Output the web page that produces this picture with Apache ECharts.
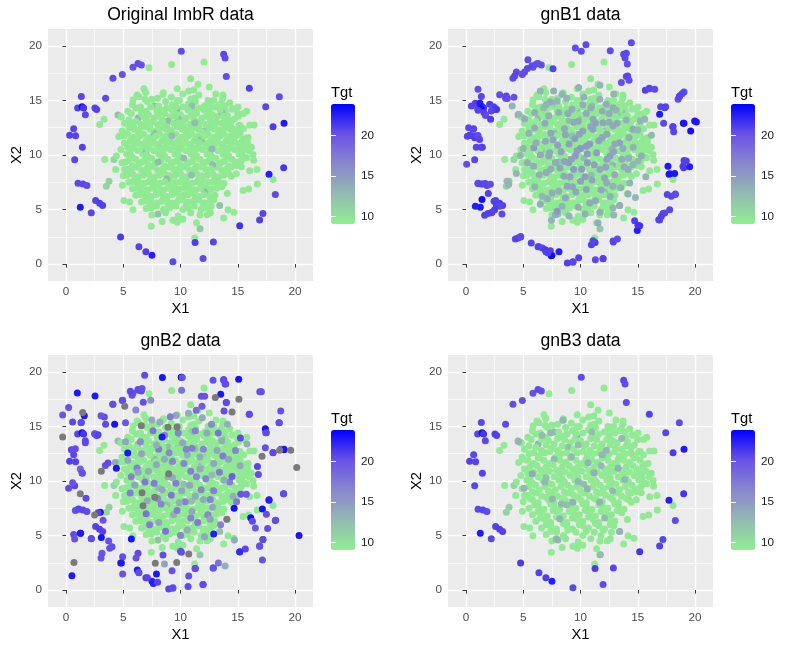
<!DOCTYPE html>
<html>
<head>
<meta charset="utf-8">
<title>Tgt scatter panels</title>
<script src="https://cdn.jsdelivr.net/npm/echarts@6.0.0/dist/echarts.min.js"></script>
<style>
  html, body { margin: 0; padding: 0; background: #fff; }
  #chart { width: 800px; height: 650px; }
</style>
</head>
<body>
<div id="chart"></div>
<script>
// ---- data: [X1, X2, Tgt] ----
const titles = ['Original ImbR data', 'gnB1 data', 'gnB2 data', 'gnB3 data'];
const axisBreaks = [0, 5, 10, 15, 20];
const minorBreaks = [2.5, 7.5, 12.5, 17.5];
const tgtBreaks = [10, 15, 20];
const tgtRange = [9.1, 23.9];

// original data, the green cloud
const origCloud = [
  [7.25,18.0,9.2],[9.23,18.3,9.3],[12.05,18.53,9.2],[10.89,17.0,9.5],[11.53,16.48,9.3],[11.15,15.96,9.5],[10.71,15.87,9.4],[12.52,16.24,9.2],
  [9.72,16.08,9.4],[8.47,15.56,9.6],[6.81,16.08,9.4],[6.96,15.72,9.3],[5.85,15.04,9.3],[6.35,15.35,9.5],[13.71,15.5,9.4],[13.57,14.8,9.5],
  [14.59,14.25,9.3],[15.03,14.4,9.2],[15.78,14.0,9.4],[16.04,12.75,9.3],[16.42,12.75,9.6],[14.59,12.35,9.4],[4.54,13.66,12.6],[4.83,13.48,9.5],
  [3.32,13.27,9.3],[2.94,12.8,9.4],[3.38,9.59,9.3],[4.19,9.59,10.9],[4.34,8.67,9.3],[5.12,8.67,9.5],[3.52,7.14,10.8],[3.76,7.6,11.2],
  [4.92,7.23,9.3],[5.06,5.82,9.4],[5.56,5.7,9.4],[5.85,4.99,9.2],[7.45,3.46,9.3],[8.03,4.6,12.4],[9.34,4.01,9.4],[9.72,3.83,9.5],
  [11.24,2.39,9.3],[11.7,3.25,11.9],[12.34,4.53,9.4],[13.42,5.36,12.3],[13.77,4.23,9.3],[14.09,6.46,9.5],[14.15,4.99,9.4],[14.67,4.75,9.3],
  [15.46,6.74,9.3],[15.95,6.89,9.4],[16.71,7.35,9.3],[18.08,7.75,9.6],[16.04,8.55,9.4],[16.68,8.67,9.3],[16.39,9.53,9.4],[16.33,10.05,9.4],
  [16.19,10.72,9.5],[15.31,10.5,11.0],[15.78,9.74,9.3],[14.88,9.04,9.4],[15.31,8.92,9.4],[14.44,8.06,9.5],[14.88,8.27,9.3],
  [6.2,15.5,9.4],[7.5,15.1,9.5],[8.5,15.7,9.3],[9.2,15.3,9.4],[10.2,15.6,9.3],[10.9,15.1,9.6],[11.6,15.5,9.4],[12.4,15.0,9.4],[13.1,15.6,9.3],[13.7,15.2,9.5],
  [5.8,14.6,9.4],[7.1,14.9,9.3],[7.7,14.5,12.8],[8.7,14.9,9.5],[9.3,14.6,9.4],[9.9,15.0,9.5],[10.7,14.7,9.3],[11.3,14.9,9.4],[12.1,14.5,9.4],[12.6,14.9,9.6],[13.4,14.6,9.3],[14.3,14.8,9.4],
  [5.4,14.0,9.4],[6.1,14.3,9.5],[7.0,14.0,9.3],[7.4,14.4,9.4],[8.3,14.1,9.3],[8.8,14.3,9.5],[9.7,14.1,12.9],[10.2,14.4,9.4],[11.1,14.0,9.4],[11.6,14.3,9.3],[12.5,14.1,9.5],[13.0,14.4,9.4],[13.9,14.0,9.4],[14.5,14.2,9.3],
  [4.8,13.5,9.4],[5.7,13.8,9.4],[6.3,13.4,13.1],[7.2,13.7,9.3],[7.7,13.4,9.5],[8.6,13.8,9.4],[9.1,13.5,9.4],[10.0,13.7,9.3],[10.5,13.4,9.5],[11.4,13.8,9.4],[11.9,13.4,9.4],[12.8,13.7,9.3],[13.2,13.5,9.5],[14.1,13.6,9.4],[14.7,13.3,9.4],[15.5,13.8,9.3],
  [5.1,12.9,9.4],[6.1,13.1,9.3],[6.6,12.8,9.5],[7.5,13.0,9.4],[8.0,12.8,9.4],[8.9,13.1,12.7],[9.4,12.9,9.3],[10.3,13.2,9.5],[10.8,12.8,9.4],[11.7,13.1,9.4],[12.2,12.8,9.3],[13.1,13.0,9.5],[13.6,12.9,9.4],[14.4,13.1,9.4],[15.1,12.7,9.3],
  [4.9,12.2,9.4],[5.5,12.5,9.4],[6.4,12.3,9.3],[6.9,12.6,9.5],[7.8,12.2,9.4],[8.3,12.5,9.4],[9.2,12.3,9.3],[9.7,12.6,9.5],[10.6,12.3,9.4],[11.1,12.5,9.4],[12.0,12.2,12.6],[12.5,12.5,9.5],[13.4,12.3,9.4],[13.9,12.5,9.4],[14.8,12.2,9.3],[15.5,12.4,9.4],
  [4.6,11.7,9.4],[5.4,11.9,9.3],[5.9,11.6,9.5],[6.8,11.9,9.4],[7.3,11.6,9.4],[8.2,11.9,9.3],[8.7,11.7,9.5],[9.6,11.9,9.4],[10.1,11.6,9.4],[11.0,11.9,9.3],[11.5,11.7,9.5],[12.4,11.9,9.4],[12.9,11.6,9.4],[13.8,11.9,9.3],[14.3,11.7,9.5],[15.2,11.9,9.4],[15.9,11.6,9.4],
  [5.1,11.1,9.3],[5.6,11.3,9.5],[6.5,11.0,9.4],[7.0,11.3,9.4],[7.9,11.0,9.3],[8.4,11.3,9.5],[9.3,11.1,9.4],[9.8,11.3,9.4],[10.7,11.0,9.3],[11.2,11.3,9.5],[12.1,11.1,9.4],[12.6,11.3,9.4],[13.5,11.0,9.3],[14.0,11.3,9.5],[14.9,11.1,9.4],[15.4,11.3,9.4],
  [4.8,10.5,9.3],[5.4,10.7,9.5],[6.3,10.4,9.4],[6.8,10.7,9.4],[7.7,10.4,9.3],[8.2,10.7,9.5],[9.1,10.5,9.4],[9.6,10.7,9.4],[10.5,10.4,9.3],[11.0,10.7,9.5],[11.9,10.5,9.4],[12.4,10.7,9.4],[13.3,10.4,9.3],[13.8,10.7,9.5],[14.7,10.5,9.4],[15.2,10.7,9.4],[16.0,10.4,9.3],
  [4.4,9.9,9.5],[5.3,10.1,9.4],[5.8,9.8,9.4],[6.7,10.1,9.3],[7.2,9.8,9.5],[8.1,10.1,9.4],[8.6,9.9,9.4],[9.5,10.1,9.3],[10.0,9.8,9.5],[10.9,10.1,9.4],[11.4,9.9,9.4],[12.3,10.1,9.3],[12.8,9.8,9.5],[13.7,10.1,9.4],[14.2,9.9,9.4],[15.1,10.1,9.3],[15.6,9.8,9.5],
  [4.9,9.3,9.4],[5.5,9.5,9.4],[6.4,9.2,9.3],[6.9,9.5,9.5],[7.8,9.2,9.4],[8.3,9.5,9.4],[9.2,9.3,9.3],[9.7,9.5,9.5],[10.6,9.2,9.4],[11.1,9.5,9.4],[12.0,9.3,9.3],[12.5,9.5,9.5],[13.4,9.2,9.4],[13.9,9.5,9.4],[14.8,9.3,9.3],[15.3,9.5,9.5],
  [5.3,8.7,9.4],[6.1,8.9,9.4],[6.6,8.6,9.3],[7.5,8.9,9.5],[8.0,8.6,9.4],[8.9,8.9,9.4],[9.4,8.7,9.3],[10.3,8.9,9.5],[10.8,8.6,9.4],[11.7,8.9,9.4],[12.2,8.7,9.3],[13.1,8.9,9.5],[13.6,8.6,9.4],[14.4,8.9,9.4],
  [5.0,8.1,9.3],[5.8,8.3,9.5],[6.3,8.0,9.4],[7.2,8.3,9.4],[7.7,8.0,9.3],[8.6,8.3,9.5],[9.1,8.1,9.4],[10.0,8.3,9.4],[10.5,8.0,9.3],[11.4,8.3,9.5],[11.9,8.1,9.4],[12.8,8.3,9.4],[13.3,8.0,9.3],[14.2,8.3,9.5],
  [5.5,7.5,9.4],[6.3,7.7,9.4],[6.8,7.4,9.3],[7.7,7.7,9.5],[8.2,7.4,9.4],[9.1,7.7,9.4],[9.6,7.5,9.3],[10.5,7.7,9.5],[11.0,7.4,9.4],[11.9,7.7,9.4],[12.4,7.5,9.3],[13.3,7.7,9.5],[13.8,7.4,9.4],
  [5.8,6.9,9.4],[6.6,7.1,9.3],[7.1,6.8,9.5],[8.0,7.1,9.4],[8.5,6.8,9.4],[9.4,7.1,9.3],[9.9,6.9,9.5],[10.8,7.1,9.4],[11.3,6.8,9.4],[12.2,7.1,9.3],[12.7,6.9,9.5],[13.6,7.1,9.4],
  [6.1,6.3,9.4],[6.9,6.5,9.3],[7.4,6.2,9.5],[8.3,6.5,9.4],[8.8,6.2,9.4],[9.7,6.5,9.3],[10.2,6.3,9.5],[11.1,6.5,9.4],[11.6,6.2,9.4],[12.5,6.5,9.3],[13.0,6.3,9.5],
  [6.6,5.7,9.4],[7.4,5.9,9.4],[7.9,5.6,9.3],[8.8,5.9,9.5],[9.3,5.6,9.4],[10.2,5.9,9.4],[10.7,5.7,9.3],[11.6,5.9,9.5],[12.1,5.6,9.4],[12.9,5.9,9.4],
  [7.0,5.1,9.3],[7.9,5.3,9.5],[8.5,5.0,9.4],[9.6,5.3,9.4],[10.2,5.0,9.3],[11.2,5.3,9.5],[11.8,5.0,9.4],[12.7,5.3,9.4],
  [7.5,4.5,9.3],[8.7,4.7,9.5],[9.8,4.4,9.4],[10.9,4.7,9.4],[11.7,4.5,9.3],[12.6,4.7,9.5],
  [8.4,3.9,9.4],[10.2,4.1,9.4],[11.4,3.8,9.3]
];

// original data, the densest middle of the cloud
const origCore = [
  [6.9,15.1,9.4],[8.0,15.2,9.5],[9.7,15.0,9.3],[11.2,15.2,9.4],[12.9,15.0,9.4],
  [6.5,14.4,9.4],[8.1,14.5,9.3],[9.6,14.4,9.5],[11.0,14.5,12.6],[12.5,14.4,9.4],[13.9,14.5,9.4],
  [6.6,13.8,9.3],[8.0,13.9,9.4],[9.5,13.8,9.4],[10.9,13.9,9.5],[12.3,13.8,9.3],[13.6,13.9,12.9],[15.0,13.8,9.4],
  [5.5,13.2,9.4],[7.0,13.3,9.4],[8.4,13.2,9.3],[9.8,13.3,12.5],[11.2,13.2,9.4],[12.6,13.3,9.4],[14.0,13.2,9.5],
  [5.9,12.6,9.4],[7.3,12.7,9.3],[8.8,12.6,9.5],[10.2,12.7,9.4],[11.6,12.6,9.4],[13.0,12.7,9.3],[14.4,12.6,9.5],[15.2,12.7,9.4],
  [5.0,12.0,9.3],[6.3,12.1,9.4],[7.7,12.0,12.8],[9.1,12.1,9.4],[10.5,12.0,9.5],[11.9,12.1,9.3],[13.3,12.0,9.4],[14.7,12.1,9.4],
  [6.2,11.4,9.5],[7.6,11.5,9.4],[9.0,11.4,9.4],[10.4,11.5,9.3],[11.8,11.4,12.7],[13.2,11.5,9.4],[14.6,11.4,9.4],[15.6,11.5,9.5],
  [5.9,10.8,9.4],[7.3,10.9,9.4],[8.7,10.8,9.3],[10.1,10.9,9.5],[11.5,10.8,9.4],[12.9,10.9,9.4],[14.3,10.8,9.3],[15.7,10.9,9.4],
  [5.6,10.2,9.4],[7.0,10.3,12.4],[8.4,10.2,9.4],[9.8,10.3,9.4],[11.2,10.2,9.3],[12.6,10.3,9.5],[14.0,10.2,9.4],[15.4,10.3,9.4],
  [6.1,9.6,9.3],[7.5,9.7,9.4],[8.9,9.6,9.4],[10.3,9.7,12.6],[11.7,9.6,9.4],[13.1,9.7,9.3],[14.5,9.6,9.5],
  [5.8,9.0,9.4],[7.2,9.1,9.4],[8.6,9.0,9.5],[10.0,9.1,9.3],[11.4,9.0,9.4],[12.8,9.1,12.9],[14.2,9.0,9.4],
  [5.6,8.4,9.4],[7.0,8.5,9.4],[8.4,8.4,9.3],[9.8,8.5,9.5],[11.2,8.4,9.4],[12.6,8.5,9.4],[14.0,8.4,9.3],
  [6.0,7.8,9.4],[7.4,7.9,9.4],[8.8,7.8,12.5],[10.2,7.9,9.4],[11.6,7.8,9.3],[13.0,7.9,9.5],
  [6.3,7.2,9.4],[7.6,7.3,9.4],[9.0,7.2,9.3],[10.4,7.3,9.5],[11.8,7.2,9.4],[13.2,7.3,9.4],
  [6.5,6.6,9.4],[7.9,6.7,9.3],[9.3,6.6,9.5],[10.7,6.7,9.4],[12.1,6.6,12.7],
  [7.0,6.0,9.4],[8.5,6.1,9.4],[9.9,6.0,9.3],[11.3,6.1,9.5],[12.6,6.0,9.4],
  [7.4,5.4,9.4],[8.9,5.5,9.3],[10.5,5.4,9.5],[12.0,5.5,9.4]
];

// original data, more of the solid middle
const origFill = [
  [6.55,14.15,9.4],[7.95,14.15,9.4],[9.25,14.15,9.3],[10.65,14.15,9.5],[12.05,14.15,9.4],[13.45,14.15,9.4],
  [6.75,13.55,9.4],[8.15,13.55,9.4],[9.55,13.55,9.5],[10.95,13.55,9.3],[12.35,13.55,9.4],[13.75,13.55,9.4],[15.05,13.55,9.4],
  [5.65,12.95,9.4],[7.05,12.95,9.4],[8.45,12.95,9.3],[9.85,12.95,9.5],[11.25,12.95,12.7],[12.65,12.95,9.4],[14.05,12.95,9.4],
  [5.95,12.35,9.4],[7.35,12.35,9.3],[8.75,12.35,9.5],[10.15,12.35,9.4],[11.55,12.35,9.4],[12.95,12.35,9.3],[14.35,12.35,9.4],[15.15,12.35,9.4],
  [5.05,11.75,9.3],[6.45,11.75,9.4],[7.85,11.75,9.4],[9.25,11.75,12.6],[10.65,11.75,9.4],[12.05,11.75,9.3],[13.45,11.75,9.5],[14.85,11.75,9.4],
  [6.05,11.15,9.4],[7.45,11.15,9.4],[8.85,11.15,9.4],[10.25,11.15,9.3],[11.65,11.15,9.5],[13.05,11.15,9.4],[14.45,11.15,9.4],[15.85,11.15,9.3],
  [5.75,10.55,9.4],[7.15,10.55,9.4],[8.55,10.55,9.3],[9.95,10.55,9.5],[11.35,10.55,9.4],[12.75,10.55,12.8],[14.15,10.55,9.4],[15.55,10.55,9.4],
  [5.55,9.95,9.4],[6.95,9.95,9.3],[8.35,9.95,9.5],[9.75,9.95,9.4],[11.15,9.95,9.4],[12.55,9.95,9.3],[13.95,9.95,9.4],[15.35,9.95,9.4],
  [5.15,9.35,9.4],[6.65,9.35,9.4],[8.05,9.35,12.5],[9.45,9.35,9.4],[10.85,9.35,9.3],[12.25,9.35,9.5],[13.65,9.35,9.4],[15.05,9.35,9.4],
  [5.65,8.75,9.4],[7.05,8.75,9.4],[8.45,8.75,9.4],[9.85,8.75,9.3],[11.25,8.75,9.5],[12.65,8.75,9.4],[14.05,8.75,9.4],
  [5.35,8.15,9.4],[6.75,8.15,9.4],[8.15,8.15,9.3],[9.55,8.15,9.5],[10.95,8.15,12.6],[12.35,8.15,9.4],[13.75,8.15,9.4],
  [5.85,7.55,9.4],[7.25,7.55,9.4],[8.65,7.55,9.4],[10.05,7.55,9.3],[11.45,7.55,9.5],[12.85,7.55,9.4],
  [6.25,6.95,9.4],[7.55,6.95,9.4],[8.95,6.95,9.3],[10.35,6.95,9.5],[11.75,6.95,9.4],[13.15,6.95,9.4],
  [6.55,6.35,9.4],[7.85,6.35,9.4],[9.25,6.35,9.4],[10.65,6.35,9.3],[12.05,6.35,9.5],
  [7.05,5.75,9.4],[8.35,5.75,9.4],[9.75,5.75,9.3],[11.15,5.75,9.5],[12.55,5.75,9.4],
  [7.45,5.15,9.4],[9.05,5.15,9.4],[10.65,5.15,9.4],[12.25,5.15,9.3]
];

// original data, the high-Tgt points round the edge
const origOuter = [
  [10.07,19.5,20.5],[13.77,19.24,20.8],[13.89,18.9,20.6],[14.0,17.2,20.5],[5.85,18.05,20.3],[6.29,18.38,20.6],[6.58,18.26,20.4],[4.92,17.37,20.3],
  [4.1,17.03,20.5],[3.46,15.2,20.6],[1.34,15.36,20.8],[1.02,14.3,20.9],[1.4,14.43,23.2],[1.54,14.3,21.5],[1.69,13.7,20.7],[2.53,14.3,20.9],
  [2.68,14.18,21.0],[0.67,12.4,20.8],[0.32,11.8,21.0],[0.84,11.76,20.9],[1.43,10.7,20.9],[0.76,9.56,20.8],[1.05,7.41,20.7],[1.48,7.35,20.8],
  [1.83,7.2,20.6],[1.25,5.2,22.8],[2.59,5.82,20.9],[2.94,5.58,21.1],[3.2,5.36,21.0],[2.21,4.7,20.8],[4.77,2.48,21.3],[6.37,1.6,20.9],
  [6.98,1.13,21.1],[7.51,0.8,22.5],[9.34,0.21,20.7],[11.27,1.99,21.2],[12.87,2.02,20.8],[11.97,0.52,20.6],[15.17,3.52,21.6],[16.91,4.04,21.0],
  [17.2,4.63,20.8],[18.28,6.37,20.6],[17.73,8.24,22.6],[19.01,8.82,21.5],[18.08,12.59,21.2],[19.04,12.9,22.8],[17.44,14.43,20.8],[18.63,15.35,20.6],
  [16.01,16.12,21.0]
];

// gnB1: new mid-Tgt points in the cloud
const gnB1Grey = [
  [4.03,14.49,13.4],[4.6,13.73,13.0],[5.12,13.33,13.7],[5.92,10.66,15.0],[4.75,9.96,13.1],[5.36,9.28,13.5],[3.58,7.6,12.9],[3.73,7.29,13.2],
  [6.49,5.48,13.6],[6.64,6.22,13.0],[7.52,6.52,13.8],[7.8,4.53,13.3],[7.96,4.84,15.2],[7.46,4.01,13.1],[6.0,12.5,13.7],[7.22,13.57,13.4],
  [6.79,14.34,12.9],[6.49,15.87,13.2],[7.66,15.87,13.5],[7.96,14.95,13.0],[8.39,15.56,13.3],[7.37,14.86,13.8],[8.68,11.86,14.4],[8.97,9.28,14.8],
  [9.55,9.9,15.1],[8.54,8.06,14.0],[8.83,7.14,14.3],[8.1,6.68,13.6],[8.68,6.06,14.1],[10.0,7.6,14.6],[9.4,8.67,14.9],[7.8,9.28,13.8],
  [7.22,9.9,14.1],[6.12,11.12,13.5],[6.93,11.27,13.9],[9.26,14.19,13.7],[9.84,16.18,13.1],
  [11.09,13.27,14.0],[11.97,12.96,14.3],[12.84,12.65,13.8],[13.42,11.12,14.5],[14.24,11.58,13.6],[12.58,9.9,14.7],[11.7,8.67,14.2],[12.29,7.44,13.9],
  [12.84,7.14,13.4],[13.42,5.36,13.7],[12.84,5.15,13.1],[11.7,4.75,13.5],[14.15,6.43,13.2],[14.15,8.67,13.8],[14.59,9.13,13.3],[15.03,9.44,13.0],
  [15.32,9.9,13.5],[15.61,13.27,13.1],[15.23,13.11,13.4],[14.59,12.35,13.9],[14.3,7.44,13.2],[10.51,10.81,15.0],[11.09,12.35,14.6],[12.84,14.34,13.5],
  [12.26,14.65,13.8],[11.68,15.1,13.3],[11.53,3.77,13.6],[10.51,6.83,14.2],[10.8,5.61,13.8],
  [9.5,11.5,14.8],[10.2,12.2,14.5],[10.8,11.0,15.1],[11.4,10.2,14.7],[10.0,10.6,15.3],[9.2,9.6,14.6],[11.9,11.6,14.2],[10.6,9.3,14.9],
  [12.2,8.9,14.4],[9.8,13.1,14.1],[11.3,12.9,14.5],[8.6,12.4,14.0],[12.9,10.3,14.3],[13.6,9.6,13.9],[10.4,8.0,14.8],[11.0,7.7,14.4],
  [9.6,6.6,14.0],[8.0,10.9,14.6],[12.5,13.8,13.7],[13.2,12.9,14.1],[10.9,14.3,13.6],[8.9,13.8,13.9],[7.4,12.0,14.2],[7.0,8.4,13.8],[6.5,10.0,14.1],
  [6.0,13.9,13.5],[6.9,12.9,13.8],[7.6,11.4,14.2],[8.3,10.3,14.4],[9.0,11.0,14.7],[9.9,11.9,14.5],[10.6,10.1,14.9],[11.6,11.3,14.3],[12.3,11.9,14.0],[13.0,11.0,14.1],
  [13.7,10.6,13.8],[14.2,9.7,13.4],[13.0,8.2,13.9],[12.1,7.9,14.2],[11.2,9.1,14.6],[10.1,8.7,14.8],[9.1,8.0,14.3],[8.2,8.8,14.2],[7.4,8.7,13.8],[6.4,8.2,13.5],
  [6.0,7.1,13.3],[7.1,6.0,13.6],[8.4,5.3,13.4],[9.8,5.2,13.7],[11.3,5.8,13.8],[12.6,6.2,13.5],[13.5,7.0,13.2],[14.6,10.7,13.3],[15.0,12.3,13.1],[14.0,13.2,13.4],
  [13.1,14.1,13.2],[11.9,14.0,13.6],[10.5,13.8,13.8],[9.4,13.0,14.1],[8.1,13.9,13.5],[7.0,14.6,13.3],[8.8,15.2,13.2],[10.3,15.3,13.4],[11.7,16.4,13.0],[12.9,15.6,13.1],
  [5.5,12.0,13.4],[5.0,10.6,13.2],[5.9,9.0,13.6],[4.4,8.3,13.0],[9.0,4.4,13.2],[10.4,4.6,13.5],[12.9,4.5,13.0],[14.8,6.1,12.9],[15.7,8.0,13.1],[16.2,11.8,12.8],
  [9.7,10.4,15.0],[10.9,12.6,14.4],[12.3,9.6,14.6],[8.6,9.4,14.5],[9.3,7.1,14.2],[11.8,6.8,14.0],[7.3,10.2,14.1],[12.5,13.0,13.8],[10.2,14.6,13.6],[13.8,8.9,13.7]
];

// gnB1: new high-Tgt points next to the original ones
const gnB1Blue = [
  [9.55,19.8,20.4],[10.48,20.1,20.6],[12.6,19.55,20.5],[14.0,19.33,20.7],[14.09,18.35,20.4],[14.12,17.25,20.8],[13.57,16.64,20.3],[14.24,16.85,20.5],
  [14.44,20.3,20.6],[7.6,17.9,20.9],[5.41,18.72,20.5],[5.76,18.17,20.6],[6.14,18.35,20.4],[5.36,17.92,20.7],[5.12,17.6,20.5],[4.4,17.6,20.6],
  [4.25,17.25,20.8],[4.89,17.43,20.4],[2.94,15.53,20.5],[3.52,15.41,20.7],[3.61,15.17,20.6],[4.19,15.29,20.4],[1.05,16.02,20.5],[0.47,14.5,20.8],
  [0.82,14.74,21.0],[1.22,14.74,22.8],[1.34,14.25,23.3],[1.05,14.1,20.9],[1.57,13.88,21.0],[2.07,14.65,21.2],[2.42,14.43,20.9],[2.59,14.18,21.4],
  [2.21,14.03,20.8],[1.72,13.63,20.6],[2.15,13.27,21.1],[0.23,12.5,20.7],[0.12,11.73,20.9],[0.41,11.79,21.0],[0.61,12.35,20.8],[0.76,11.58,21.1],
  [1.05,11.79,20.6],[1.19,11.43,20.9],[0.9,10.7,20.8],[1.34,10.72,21.0],[0.06,9.16,20.5],[1.05,7.38,20.6],[1.34,7.35,20.8],[1.69,7.38,20.7],
  [2.13,7.32,20.5],[1.95,6.46,21.0],[0.82,5.3,22.6],[1.4,5.91,23.3],[1.63,4.47,21.0],[2.45,5.76,20.9],[2.65,5.45,21.1],[2.94,5.3,20.8],
  [2.5,4.99,21.2],[2.27,4.75,20.9],[1.92,4.63,21.0],[3.14,4.6,20.6],[4.31,2.3,20.8],[4.54,2.39,21.0],[4.77,2.54,20.7],[5.7,1.93,20.9],
  [6.29,1.59,21.0],[6.67,1.47,20.8],[6.93,1.32,21.2],[7.37,1.23,21.0],[7.45,0.77,23.4],[8.12,1.13,22.5],[7.16,1.01,21.1],[8.85,0.09,21.0],
  [9.34,0.18,20.8],[9.84,0.58,20.9],[10.95,1.78,21.0],[11.09,2.14,20.8],[11.3,0.4,20.7],[11.97,0.49,20.9],[12.84,2.11,20.8],[13.22,2.3,20.6],
  [14.73,3.98,21.1],[14.96,3.09,22.6],[15.02,3.55,21.5],[16.83,4.07,20.9],[17.06,4.38,21.0],[17.35,4.69,20.8],[17.79,4.99,20.7],[17.58,6.37,20.9],
  [17.93,6.22,20.8],[18.28,6.43,20.6],[17.64,8.98,22.8],[17.79,8.27,23.0],[18.22,8.3,22.9],[19.04,9.5,20.9],[18.95,8.98,21.2],[19.53,8.92,22.7],
  [19.24,9.44,21.0],[18.05,12.59,21.0],[18.14,12.13,20.9],[19.62,12.19,23.2],[18.98,12.9,23.0],[19.97,13.11,22.8],[20.12,13.02,22.9],[17.0,14.43,20.8],
  [16.91,13.73,22.7],[17.35,14.34,20.9],[17.26,12.9,20.7],[18.52,15.1,20.6],[18.86,15.62,20.8],[19.04,15.78,20.7],[18.66,15.41,20.9],[15.66,15.93,21.0],
  [16.01,16.08,20.8],[16.48,16.02,20.6]
];

// gnB2: noisy points spread over the whole plane
const gnB2Purple = [
  [6.87,19.7,20.6],[8.42,19.49,23.0],[10.07,19.5,23.2],[0.99,18.07,22.9],[2.54,17.79,22.8],[0.23,16.74,20.3],[-0.29,16.04,20.1],[1.6,15.99,22.7],
  [0.58,15.41,20.8],[1.31,15.35,20.5],[1.69,13.51,20.7],[2.5,14.34,20.4],[2.8,14.25,20.9],[0.47,12.87,20.6],[0.82,12.96,20.4],[1.25,11.1,19.0],
  [1.4,10.75,20.4],[0.23,9.33,20.5],[0.58,9.83,20.1],[1.75,8.42,20.6],[0.82,7.29,20.4],[1.11,7.44,20.7],[3.0,7.14,23.0],[2.8,7.08,20.8],
  [3.24,6.4,20.2],[0.67,5.09,20.5],[0.76,4.69,20.2],[1.28,5.21,22.8],[2.21,4.72,20.6],[3.09,4.81,23.1],[3.73,4.5,20.3],[4.02,3.98,20.5],
  [3.82,3.83,20.4],[3.15,3.37,20.1],[3.06,2.94,20.3],[0.52,1.32,22.9],[4.95,3.06,20.4],[4.84,2.48,22.9],[4.95,1.47,20.2],[6.29,3.37,20.6],
  [6.12,2.94,20.3],[5.71,4.69,23.0],[6.23,1.84,22.7],[6.35,1.62,20.5],[7.11,1.13,20.8],[7.63,0.61,22.5],[8.0,0.71,20.9],[7.9,1.47,22.9],
  [8.47,3.22,20.4],[8.97,0.09,20.8],[9.32,0.18,20.6],[9.26,1.78,20.3],[10.0,3.55,20.2],[6.35,18.32,20.6],[5.77,17.86,20.4],[5.62,18.23,20.7],
  [6.64,18.47,20.3],[4.95,17.4,20.5],[4.08,17.03,20.4],[3.35,15.87,20.5],[3.06,15.99,20.2],[4.25,15.2,23.1],[5.2,15.35,19.8],[5.39,12.56,22.9],
  [4.4,11.16,23.0],[3.44,11.42,20.4],[3.67,11.64,20.6],[6.75,17.22,20.3],[8.39,14.03,22.8],
  [10.16,19.49,20.3],[12.84,19.24,20.4],[13.77,19.3,20.6],[13.95,18.9,20.5],[15.08,19.33,23.0],[10.1,18.32,18.0],[11.82,17.77,20.3],[13.51,17.95,22.9],
  [14.0,17.19,20.6],[13.8,16.42,20.4],[16.0,16.11,20.5],[16.92,18.17,20.2],[17.06,18.17,20.4],[18.75,16.42,20.3],[18.6,15.35,20.4],[17.41,14.8,23.0],
  [17.5,14.43,20.6],[15.23,13.94,20.7],[17.41,13.05,20.4],[18.08,12.62,20.6],[18.75,12.9,20.5],[19.04,12.87,23.0],[16.72,11.33,20.8],[16.8,10.6,20.4],
  [14.5,10.42,19.5],[15.26,8.78,20.1],[15.75,8.79,19.8],[17.73,8.27,22.6],[19.0,8.82,20.5],[14.68,7.5,23.1],[17.15,7.44,23.2],[17.5,6.95,20.4],
  [16.13,6.62,23.4],[16.28,6.31,20.6],[18.31,6.4,20.5],[17.61,5.64,20.4],[16.54,5.7,19.8],[12.9,5.15,22.6],[20.35,5.0,23.0],[17.2,4.63,20.6],
  [16.91,4.01,20.4],[15.66,3.77,20.8],[15.17,3.49,22.0],[17.15,2.76,20.3],[13.31,2.48,18.2],[12.84,2.02,20.3],[11.3,1.99,20.5],[10.72,1.29,20.4],
  [10.66,0.34,20.6],[11.97,0.52,20.5],[10.08,3.46,20.4],[11.88,16.85,19.6],[12.11,17.77,20.2],[11.38,16.48,18.4]
];

// gnB2: noisy points inside the cloud
const gnB2Mid = [
  [6.9,9.9,17.5],[7.7,9.8,17.2],[8.3,7.9,16.8],[9.2,8.7,17.6],[10.4,8.1,16.9],[11.5,6.2,17.4],[9.3,11.8,16.5],[10.9,10.9,17.0],
  [12.2,10.2,16.6],[8.1,12.9,17.3],[7.0,7.0,17.8],[12.6,8.3,16.8],[11.0,13.0,17.1],[9.8,14.4,16.7],[13.7,12.3,17.4],[8.7,5.4,17.9],
  [6.2,11.2,17.0],[14.3,9.9,16.9],[10.3,11.6,16.4],[11.8,9.2,16.7],[9.6,9.8,17.2],[7.6,14.6,17.6],[13.3,14.4,17.8],[12.4,6.9,16.5],
  [5.6,8.9,17.2],[6.1,16.5,16.8],[7.4,17.4,15.9],
  [8.2,15.4,13.8],[9.6,16.0,14.2],[7.9,13.3,13.5],[6.6,12.5,14.0],[10.6,12.4,13.6],[11.7,11.1,13.9],[12.9,11.6,14.3],[13.6,13.7,13.7],
  [10.1,9.1,14.1],[8.9,10.4,13.5],[7.2,10.9,13.8],[6.0,9.6,14.2],[11.3,8.6,13.9],[12.8,7.6,14.0],[9.4,6.9,13.6],[8.1,6.2,14.3],
  [10.6,5.5,13.8],[12.1,4.9,14.1],[14.6,8.6,13.7],[15.2,11.4,14.0],[14.1,15.2,13.5],[11.9,15.8,13.9],[5.2,13.6,14.2],[4.3,11.7,13.8],
  [15.8,13.4,13.6],[8.6,2.4,14.4],[14.7,4.6,13.9],[13.9,2.2,13.6],
  [9.0,12.6,16.2],[10.5,12.9,17.0],[11.4,10.4,16.6],[12.9,9.1,16.9],[13.4,10.8,17.3],[8.0,8.4,16.4],[9.7,7.3,17.1],[10.9,6.6,16.7],[12.0,12.9,16.5],[8.6,14.2,17.0],
  [6.5,13.6,16.3],[5.7,10.4,16.9],[7.3,6.0,17.2],[10.0,5.0,16.6],[13.5,6.0,17.0],[14.8,12.8,16.8],[12.7,15.2,16.4],[9.1,15.9,17.2],[11.3,14.6,16.9],[14.9,8.1,17.4],
  [7.9,11.5,14.0],[9.3,10.3,13.8],[10.8,9.6,14.3],[12.0,8.3,13.9],[10.2,13.5,14.1],[11.7,12.2,13.7],[13.2,12.8,14.2],[8.4,9.2,14.0],[9.9,8.0,13.6],[12.6,6.5,14.4],
  [7.1,8.2,13.9],[6.3,10.8,14.1],[8.6,12.0,13.8],[11.0,7.2,14.0],[13.8,10.1,13.7],[14.2,12.0,14.3],[7.5,15.6,13.9],[12.3,14.4,14.1],[10.7,16.2,13.8],[5.4,11.9,14.0]
];

// gnB2: points without a Tgt value (drawn grey)
const gnB2NA = [
  [1.46,16.29],[-0.29,14.03],[3.09,10.9],[1.25,8.82],[2.5,6.89],[0.7,2.54],[5.13,16.85],[6.58,15.07],[8.91,14.92],[6.73,7.72],[7.75,8.52],
  [7.8,2.45],[9.67,2.54],[8.97,10.66],[6.64,8.92],[13.04,17.65],[15.1,17.5],[14.5,16.33],[17.12,12.28],[19.62,12.81],[18.66,12.81],
  [20.15,11.24],[14.04,6.49],[10.72,3.31],[9.7,14.95]
];

// gnB3: extra mid-Tgt points in the cloud
const gnB3Grey = [
  [8.47,15.56,13.2],[4.6,13.63,13.0],[6.64,14.18,12.8],[7.4,14.43,13.1],[5.79,10.66,13.9],[5.07,9.34,12.9],[8.18,6.53,13.3],[7.89,4.69,13.5],
  [11.73,3.25,12.7],[13.42,5.36,13.0],[10.6,9.28,13.4],[11.18,10.75,13.6],[9.78,9.96,13.2],[9.2,12.2,12.9],[12.26,12.81,13.1],[13.28,11.18,13.4],
  [13.86,10.14,12.8],[11.67,8.06,13.3],[9.34,8.06,13.5],[8.33,7.9,13.0],[7.54,8.36,13.2],[6.87,9.9,12.9],[10.66,11.67,13.4],[11.88,12.41,13.1]
];

// ---- layout ----
const panelPos = [
  { left: 48, top: 29 }, { left: 448, top: 29 },
  { left: 48, top: 355 }, { left: 448, top: 355 }
];
const panelSets = [
  [origCloud, origCore, origFill, origOuter],
  [origCloud, origCore, origFill, origOuter, gnB1Grey, gnB1Blue],
  [origCloud, origCore, origFill, origOuter, gnB2Mid, gnB2Purple],
  [origCloud, origCore, origOuter, gnB3Grey]
];
const panelNA = [[], [], gnB2NA, []];

const FONT = 'Liberation Sans, Arial, sans-serif';
const W = 265, H = 252;
const gradient = ['#90EE90', '#93BAB1', '#8987CD', '#6A52E7', '#0000FF'];
const N = panelPos.length;

const grid = [], barGrid = [], xAxis = [], yAxis = [], series = [], visualMap = [], graphic = [];
const barX = [], barY = [], barTicks = [];

panelPos.forEach((p, i) => {
  grid.push({ left: p.left, top: p.top, width: W, height: H, show: true,
    backgroundColor: '#EBEBEB', borderWidth: 0 });

  const common = {
    gridIndex: i, type: 'value',
    nameLocation: 'middle',
    nameTextStyle: { fontFamily: FONT, fontSize: 14.7, color: '#000' },
    axisLine: { show: false },
    axisTick: { show: true, length: 3.5, customValues: axisBreaks, lineStyle: { color: '#333', width: 1 } },
    axisLabel: { customValues: axisBreaks, color: '#4D4D4D', fontFamily: FONT, fontSize: 11.7 },
    splitLine: { show: true, lineStyle: { color: '#fff', width: 1.4 } }
  };
  xAxis.push(Object.assign({}, common, { min: -1.57, max: 21.57, name: 'X1', nameGap: 20,
    axisLabel: Object.assign({}, common.axisLabel, { margin: 5 }) }));
  yAxis.push(Object.assign({}, common, { min: -1.55, max: 21.55, name: 'X2', nameGap: 24,
    axisLabel: Object.assign({}, common.axisLabel, { margin: 6 }) }));

  // minor grid lines
  series.push({
    type: 'scatter', xAxisIndex: i, yAxisIndex: i, data: [], silent: true, z: 1,
    markLine: {
      silent: true, symbol: ['none', 'none'], label: { show: false }, animation: false,
      lineStyle: { color: '#fff', width: 0.7, type: 'solid' },
      data: minorBreaks.map(v => ({ xAxis: v })).concat(minorBreaks.map(v => ({ yAxis: v })))
    }
  });

  const idx = series.length;
  series.push({
    type: 'scatter', xAxisIndex: i, yAxisIndex: i, zlevel: 1, z: 3,
    data: [].concat(...panelSets[i]),
    symbolSize: 7, itemStyle: { opacity: 1 }
  });
  if (panelNA[i].length) {
    series.push({
      type: 'scatter', xAxisIndex: i, yAxisIndex: i, zlevel: 1, z: 4,
      data: panelNA[i], symbolSize: 7, itemStyle: { color: '#7A7A7A', opacity: 1 }
    });
  }

  visualMap.push({
    type: 'continuous', seriesIndex: idx, dimension: 2,
    min: tgtRange[0], max: tgtRange[1], calculable: false, hoverLink: false,
    left: p.left + 283, top: p.top + 75, itemWidth: 24, itemHeight: 120, padding: 0,
    inRange: { color: gradient }
  });

  // colour bar scale, laid over the visualMap bar (grid index N + i)
  const g = N + i;
  barGrid.push({ left: p.left + 283, top: p.top + 75, width: 24, height: 120, show: false });
  barX.push({ gridIndex: g, type: 'value', show: false });
  barY.push({ gridIndex: g, type: 'value', position: 'right', min: tgtRange[0], max: tgtRange[1], z: 10,
    axisLine: { show: false }, splitLine: { show: false },
    axisTick: { show: true, inside: true, length: 5, customValues: tgtBreaks, lineStyle: { color: '#fff', width: 1 } },
    axisLabel: { customValues: tgtBreaks, margin: 6, color: '#1A1A1A', fontFamily: FONT, fontSize: 11.7 } });
  barTicks.push({ gridIndex: g, type: 'value', position: 'left', min: tgtRange[0], max: tgtRange[1], z: 10,
    axisLine: { show: false }, splitLine: { show: false }, axisLabel: { show: false },
    axisTick: { show: true, inside: true, length: 5, customValues: tgtBreaks, lineStyle: { color: '#fff', width: 1 } } });

  graphic.push({ type: 'text', x: p.left + W / 2, y: p.top - 14, silent: true,
    style: { text: titles[i], fontFamily: FONT, fontSize: 17.6, fill: '#000', align: 'center', verticalAlign: 'middle' } });
  graphic.push({ type: 'text', x: p.left + 283, y: p.top + 63.5, silent: true,
    style: { text: 'Tgt', fontFamily: FONT, fontSize: 14.7, fill: '#000', align: 'left', verticalAlign: 'middle' } });
});

const chart = echarts.init(document.getElementById('chart'));
chart.setOption({
  animation: false,
  backgroundColor: '#fff',
  grid: grid.concat(barGrid),
  xAxis: xAxis.concat(barX),
  yAxis: yAxis.concat(barY, barTicks),
  series, visualMap, graphic
});
</script>
</body>
</html>
